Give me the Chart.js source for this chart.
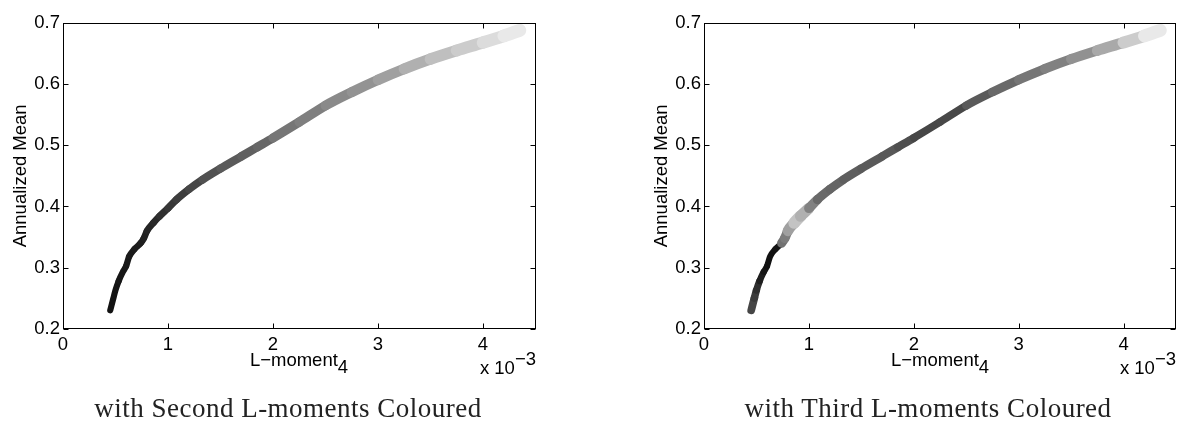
<!DOCTYPE html>
<html>
<head>
<meta charset="utf-8">
<script src="https://cdn.jsdelivr.net/npm/chart.js@4.4.1/dist/chart.umd.min.js"></script>
<style>
    body { margin: 0; background: #fff; }
    #page { position: relative; width: 1178px; height: 421px; overflow: hidden; font-family: "Liberation Sans", Arial, sans-serif; }
    .panel { position: absolute; top: 0; width: 589px; height: 421px; }
    .xlabel, .mult, .caption { position: absolute; white-space: nowrap; line-height: 1; color: #000; }
    .xlabel { font-size: 18.5px; transform: translateX(-50%); }
    .xlabel sub { font-size: 18.5px; vertical-align: baseline; position: relative; top: 7px; }
    .mult { font-size: 18.5px; transform: translateX(-100%); }
    .mult span { position: relative; top: -9px; }
    .caption { font-family: "Liberation Serif", "DejaVu Serif", serif; font-size: 27px; letter-spacing: 0.5px; color: #222; transform: translateX(-50%); }
</style>
</head>
<body>
<div id="page">
    <div class="panel" style="left: 0;"><canvas id="chartSecond" width="589" height="421"></canvas></div>
    <div class="panel" style="left: 589px;"><canvas id="chartThird" width="589" height="421"></canvas></div>

    <div class="xlabel" style="left: 299px; top: 351px;">L−moment<sub>4</sub></div>
    <div class="xlabel" style="left: 940px; top: 351px;">L−moment<sub>4</sub></div>
    <div class="mult" style="left: 536px; top: 359px;">x 10<span>−3</span></div>
    <div class="mult" style="left: 1176px; top: 359px;">x 10<span>−3</span></div>

    <div class="caption" style="left: 288px; top: 395px;">with Second L-moments Coloured</div>
    <div class="caption" style="left: 928px; top: 395px;">with Third L-moments Coloured</div>
</div>

<script>
// L-moment4 (units of 10^-3) and annualized mean along the frontier
const lmom4 = [0.45, 0.48, 0.50, 0.53, 0.57, 0.60, 0.63, 0.68, 0.74, 0.77,
               0.80, 0.86, 0.92, 1.00, 1.08, 1.20, 1.33, 1.50, 1.70, 1.85,
               2.00, 2.25, 2.50, 2.75, 3.00, 3.25, 3.50, 3.75, 4.00, 4.20, 4.35];
const annualMean = [0.230, 0.250, 0.263, 0.278, 0.293, 0.302, 0.318, 0.330, 0.340, 0.348,
                    0.360, 0.373, 0.384, 0.397, 0.411, 0.428, 0.444, 0.462, 0.482, 0.497,
                    0.512, 0.538, 0.565, 0.587, 0.607, 0.625, 0.641, 0.655, 0.668, 0.679, 0.688];

// colouring variables (normalised 0..1)
const secondLmom = [0.02, 0.02, 0.02, 0.02, 0.03, 0.03, 0.04, 0.05, 0.06, 0.07,
                    0.08, 0.10, 0.12, 0.15, 0.18, 0.21, 0.25, 0.30, 0.34, 0.37,
                    0.40, 0.47, 0.51, 0.56, 0.60, 0.66, 0.73, 0.80, 0.86, 0.93, 0.99];
const thirdLmom = [0.27, 0.25, 0.20, 0.14, 0.07, 0.03, 0.01, 0.01, 0.02, 0.45,
                   0.50, 0.66, 0.82, 0.73, 0.52, 0.41, 0.39, 0.36, 0.34, 0.33,
                   0.29, 0.25, 0.26, 0.34, 0.41, 0.47, 0.52, 0.59, 0.70, 0.86, 0.99];

const xTicks = [0, 1, 2, 3, 4];
const yTicks = [0.2, 0.3, 0.4, 0.5, 0.6, 0.7];

function grey(v) {
    const g = Math.round(15 + 220 * v);
    return `rgb(${g},${g},${g})`;
}

// box round the axes with ticks pointing inwards, like MATLAB
const boxTicks = {
    id: 'boxTicks',
    afterDraw(chart) {
        const { ctx, chartArea: a, scales: { x, y } } = chart;
        const L = Math.round(a.left) + 0.5, R = Math.round(a.right) - 0.5;
        const T = Math.round(a.top) + 0.5, B = Math.round(a.bottom) - 0.5;
        ctx.save();
        ctx.strokeStyle = '#000';
        ctx.lineWidth = 1;
        ctx.strokeRect(L, T, R - L, B - T);
        ctx.beginPath();
        x.ticks.forEach(t => {
            const px = Math.round(x.getPixelForValue(t.value)) + 0.5;
            ctx.moveTo(px, B); ctx.lineTo(px, B - 5);
            ctx.moveTo(px, T); ctx.lineTo(px, T + 5);
        });
        y.ticks.forEach(t => {
            const py = Math.round(y.getPixelForValue(t.value)) + 0.5;
            ctx.moveTo(L, py); ctx.lineTo(L + 5, py);
            ctx.moveTo(R, py); ctx.lineTo(R - 5, py);
        });
        ctx.stroke();
        ctx.restore();
    }
};

function makeChart(id, shade, padLeft, padRight) {
    const points = lmom4.map((v, i) => ({ x: v, y: annualMean[i] }));
    return new Chart(document.getElementById(id), {
        type: 'scatter',
        data: {
            datasets: [{
                data: points,
                showLine: true,
                pointRadius: 0,
                borderCapStyle: 'round',
                borderJoinStyle: 'round',
                cubicInterpolationMode: 'monotone',
                segment: {
                    borderColor: c => grey(shade[c.p1DataIndex]),
                    borderWidth: c => 6 + 7 * shade[c.p1DataIndex]
                }
            }]
        },
        options: {
            responsive: false,
            animation: false,
            layout: { padding: { left: padLeft, right: padRight, top: 23, bottom: 0 } },
            plugins: { legend: { display: false }, tooltip: { enabled: false } },
            scales: {
                x: {
                    type: 'linear',
                    min: 0,
                    max: 4.5,
                    afterBuildTicks: s => { s.ticks = xTicks.map(v => ({ value: v })); },
                    afterFit: s => { s.height = 92.3; },
                    grid: { display: false, drawTicks: false },
                    border: { display: false },
                    ticks: {
                        color: '#000',
                        padding: 5,
                        maxRotation: 0,
                        font: { family: 'Liberation Sans, Arial, sans-serif', size: 18.5 },
                        callback: v => String(v)
                    }
                },
                y: {
                    min: 0.2,
                    max: 0.7,
                    afterBuildTicks: s => { s.ticks = yTicks.map(v => ({ value: v })); },
                    afterFit: s => { s.width = 63; },
                    grid: { display: false, drawTicks: false },
                    border: { display: false },
                    title: {
                        display: true,
                        text: 'Annualized Mean',
                        color: '#000',
                        padding: { top: 10, bottom: 0 },
                        font: { family: 'Liberation Sans, Arial, sans-serif', size: 18.5 }
                    },
                    ticks: {
                        color: '#000',
                        padding: 3,
                        font: { family: 'Liberation Sans, Arial, sans-serif', size: 18.5 },
                        callback: v => v.toFixed(1)
                    }
                }
            }
        },
        plugins: [boxTicks]
    });
}

makeChart('chartSecond', secondLmom, 0, 53.5);
makeChart('chartThird', thirdLmom, 52, 2);
</script>
</body>
</html>
